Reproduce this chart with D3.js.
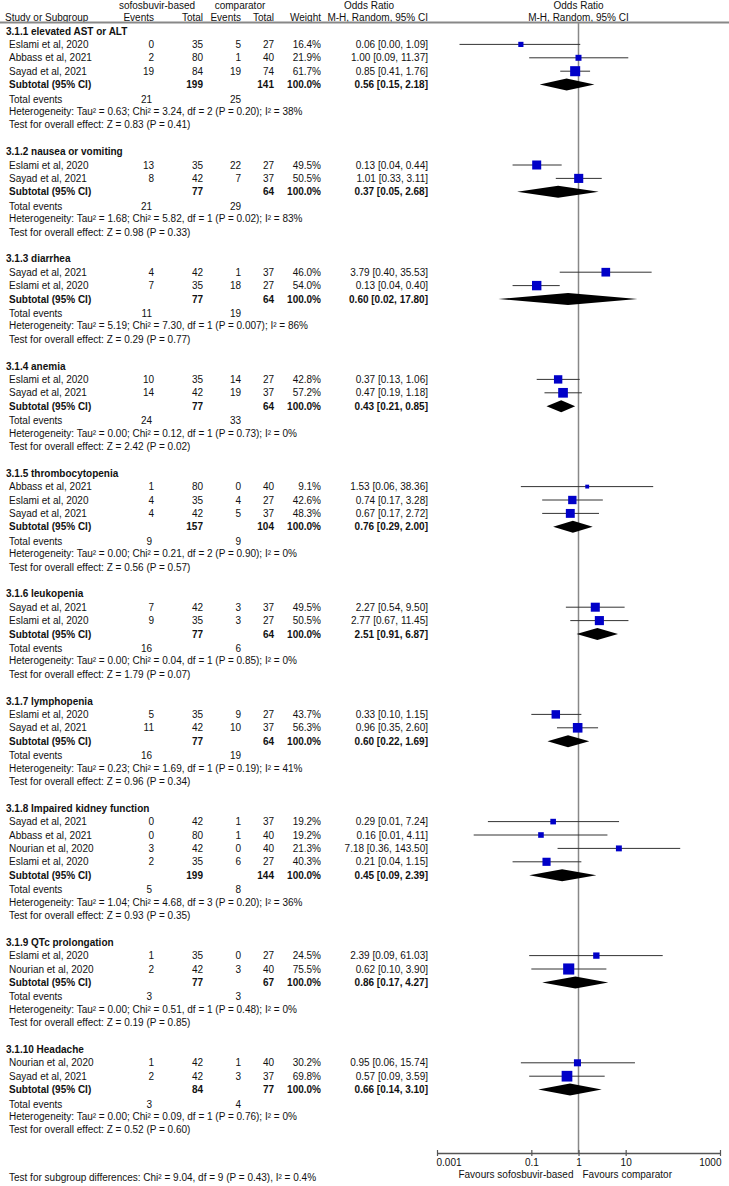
<!DOCTYPE html>
<html>
<head>
<meta charset="utf-8">
<script src="https://cdn.jsdelivr.net/npm/d3@7"></script>
<style>
body { margin: 0; background: #fff; }
text { font-family: "Liberation Sans", Arial, sans-serif; font-size: 10px; fill: #111; }
.b { font-weight: bold; }
</style>
</head>
<body>
<script>
// subgroups
var groupNames = ["3.1.1 elevated AST or ALT", "3.1.2 nausea or vomiting", "3.1.3 diarrhea",
    "3.1.4 anemia", "3.1.5 thrombocytopenia", "3.1.6 leukopenia", "3.1.7 lymphopenia",
    "3.1.8 Impaired kidney function", "3.1.9 QTc prolongation", "3.1.10 Headache"];

// studies (flat, with group index)
var studyGroup = [0,0,0, 1,1, 2,2, 3,3, 4,4,4, 5,5, 6,6, 7,7,7,7, 8,8, 9,9];
var studyName = ["Eslami et al, 2020", "Abbass et al, 2021", "Sayad et al, 2021",
    "Eslami et al, 2020", "Sayad et al, 2021",
    "Sayad et al, 2021", "Eslami et al, 2020",
    "Eslami et al, 2020", "Sayad et al, 2021",
    "Abbass et al, 2021", "Eslami et al, 2020", "Sayad et al, 2021",
    "Sayad et al, 2021", "Eslami et al, 2020",
    "Eslami et al, 2020", "Sayad et al, 2021",
    "Sayad et al, 2021", "Abbass et al, 2021", "Nourian et al, 2020", "Eslami et al, 2020",
    "Eslami et al, 2020", "Nourian et al, 2020",
    "Nourian et al, 2020", "Sayad et al, 2021"];
var eventsA = [0,2,19, 13,8, 4,7, 10,14, 1,4,4, 7,9, 5,11, 0,0,3,2, 1,2, 1,2];
var totalA  = [35,80,84, 35,42, 42,35, 35,42, 80,35,42, 42,35, 35,42, 42,80,42,35, 35,42, 42,42];
var eventsB = [5,1,19, 22,7, 1,18, 14,19, 0,4,5, 3,3, 9,10, 1,1,0,6, 0,3, 1,3];
var totalB  = [27,40,74, 27,37, 37,27, 27,37, 40,27,37, 37,27, 27,37, 37,40,40,27, 27,40, 40,37];
var weight  = [16.4,21.9,61.7, 49.5,50.5, 46.0,54.0, 42.8,57.2, 9.1,42.6,48.3, 49.5,50.5,
    43.7,56.3, 19.2,19.2,21.3,40.3, 24.5,75.5, 30.2,69.8];
var oddsR   = [0.06,1.00,0.85, 0.13,1.01, 3.79,0.13, 0.37,0.47, 1.53,0.74,0.67, 2.27,2.77,
    0.33,0.96, 0.29,0.16,7.18,0.21, 2.39,0.62, 0.95,0.57];
var ciLow   = [0.003,0.09,0.41, 0.04,0.33, 0.40,0.04, 0.13,0.19, 0.06,0.17,0.17, 0.54,0.67,
    0.10,0.35, 0.012,0.006,0.36,0.04, 0.09,0.10, 0.06,0.09];
var ciHigh  = [1.09,11.37,1.76, 0.44,3.11, 35.53,0.40, 1.06,1.18, 38.36,3.28,2.72, 9.50,11.45,
    1.15,2.60, 7.24,4.11,143.50,1.15, 61.03,3.90, 15.74,3.59];

// subtotals per group
var subTotalA = [199,77,77,77,157,77,77,199,77,84];
var subTotalB = [141,64,64,64,104,64,64,144,67,77];
var subOR     = [0.56,0.37,0.60,0.43,0.76,2.51,0.60,0.45,0.86,0.66];
var subLow    = [0.15,0.05,0.02,0.21,0.29,0.91,0.22,0.09,0.17,0.14];
var subHigh   = [2.18,2.68,17.80,0.85,2.00,6.87,1.69,2.39,4.27,3.10];
var totEventsA = [21,21,11,24,9,16,16,5,3,3];
var totEventsB = [25,29,19,33,9,6,19,8,3,4];
var hetText = [
    "Heterogeneity: Tau² = 0.63; Chi² = 3.24, df = 2 (P = 0.20); I² = 38%",
    "Heterogeneity: Tau² = 1.68; Chi² = 5.82, df = 1 (P = 0.02); I² = 83%",
    "Heterogeneity: Tau² = 5.19; Chi² = 7.30, df = 1 (P = 0.007); I² = 86%",
    "Heterogeneity: Tau² = 0.00; Chi² = 0.12, df = 1 (P = 0.73); I² = 0%",
    "Heterogeneity: Tau² = 0.00; Chi² = 0.21, df = 2 (P = 0.90); I² = 0%",
    "Heterogeneity: Tau² = 0.00; Chi² = 0.04, df = 1 (P = 0.85); I² = 0%",
    "Heterogeneity: Tau² = 0.23; Chi² = 1.69, df = 1 (P = 0.19); I² = 41%",
    "Heterogeneity: Tau² = 1.04; Chi² = 4.68, df = 3 (P = 0.20); I² = 36%",
    "Heterogeneity: Tau² = 0.00; Chi² = 0.51, df = 1 (P = 0.48); I² = 0%",
    "Heterogeneity: Tau² = 0.00; Chi² = 0.09, df = 1 (P = 0.76); I² = 0%"];
var effectText = [
    "Test for overall effect: Z = 0.83 (P = 0.41)",
    "Test for overall effect: Z = 0.98 (P = 0.33)",
    "Test for overall effect: Z = 0.29 (P = 0.77)",
    "Test for overall effect: Z = 2.42 (P = 0.02)",
    "Test for overall effect: Z = 0.56 (P = 0.57)",
    "Test for overall effect: Z = 1.79 (P = 0.07)",
    "Test for overall effect: Z = 0.96 (P = 0.34)",
    "Test for overall effect: Z = 0.93 (P = 0.35)",
    "Test for overall effect: Z = 0.19 (P = 0.85)",
    "Test for overall effect: Z = 0.52 (P = 0.60)"];
var subgroupDiff = "Test for subgroup differences: Chi² = 9.04, df = 9 (P = 0.43), I² = 0.4%";

var tickVals = [0.001, 0.1, 1, 10, 1000];
var favourLeft = "Favours sofosbuvir-based", favourRight = "Favours comparator";

var W = 729, H = 1186;
var rowH = 13.4, firstY = 31, axisY = 1153;
var colE1 = 154, colN1 = 203, colE2 = 241, colN2 = 274, colW = 321, colCI = 428;

var f2 = d3.format(".2f"), f1 = d3.format(".1f");
function ciLabel(o, l, h) { return f2(o) + " [" + f2(l) + ", " + f2(h) + "]"; }

var x = d3.scaleLog().domain([0.001, 1000]).range([437, 720]);

var svg = d3.select("body").append("svg")
    .attr("width", W)
    .attr("height", H);

function txt(s, xx, yy, anchor, cls) {
    return svg.append("text")
        .attr("x", xx).attr("y", yy).attr("dy", "0.35em")
        .attr("text-anchor", anchor || "start")
        .attr("class", cls || null)
        .text(s);
}

// header
txt("sofosbuvir-based", 157, 5, "middle");
txt("comparator", 240, 5, "middle");
txt("Odds Ratio", 369, 5, "middle");
txt("Odds Ratio", x(1), 5, "middle");
txt("Study or Subgroup", 5, 17);
txt("Events", colE1, 17, "end");
txt("Total", colN1, 17, "end");
txt("Events", colE2, 17, "end");
txt("Total", colN2, 17, "end");
txt("Weight", colW, 17, "end");
txt("M-H, Random, 95% CI", colCI, 17, "end");
txt("M-H, Random, 95% CI", x(1), 17, "middle");

svg.append("line")
    .attr("x1", 0).attr("x2", W)
    .attr("y1", 22.5).attr("y2", 22.5)
    .attr("stroke", "#888").attr("stroke-width", 2);

// line of no effect
svg.append("line")
    .attr("x1", x(1)).attr("x2", x(1))
    .attr("y1", 23).attr("y2", axisY)
    .attr("stroke", "#888").attr("stroke-width", 1.5);

// build rows
var y = firstY;
groupNames.forEach(function(g, gi) {
    txt(g, 6, y, "start", "b");
    y += rowH;

    studyName.forEach(function(s, i) {
        if (studyGroup[i] != gi) return;
        txt(s, 9, y);
        txt(eventsA[i], colE1, y, "end");
        txt(totalA[i], colN1, y, "end");
        txt(eventsB[i], colE2, y, "end");
        txt(totalB[i], colN2, y, "end");
        txt(f1(weight[i]) + "%", colW, y, "end");
        txt(ciLabel(oddsR[i], ciLow[i], ciHigh[i]), colCI, y, "end");

        svg.append("line")
            .attr("x1", x(ciLow[i])).attr("x2", x(ciHigh[i]))
            .attr("y1", y).attr("y2", y)
            .attr("stroke", "#333").attr("stroke-width", 1);
        var side = Math.max(3, 1.28 * Math.sqrt(weight[i]));
        svg.append("rect")
            .attr("x", x(oddsR[i]) - side / 2).attr("y", y - side / 2)
            .attr("width", side).attr("height", side)
            .attr("fill", "#0000c8");
        y += rowH;
    });

    // subtotal
    txt("Subtotal (95% CI)", 9, y, "start", "b");
    txt(subTotalA[gi], colN1, y, "end", "b");
    txt(subTotalB[gi], colN2, y, "end", "b");
    txt("100.0%", colW, y, "end", "b");
    txt(ciLabel(subOR[gi], subLow[gi], subHigh[gi]), colCI, y, "end", "b");
    var pts = [[x(subLow[gi]), y], [x(subOR[gi]), y - 6], [x(subHigh[gi]), y], [x(subOR[gi]), y + 6]];
    svg.append("path")
        .attr("d", d3.line()(pts) + "Z")
        .attr("fill", "#000");
    y += rowH;

    txt("Total events", 9, y + 1);
    txt(totEventsA[gi], colE1 - 2, y + 1, "end");
    txt(totEventsB[gi], colE2, y + 1, "end");
    y += rowH;
    txt(hetText[gi], 9, y);
    y += rowH;
    txt(effectText[gi], 9, y);
    y += rowH * 2;
});

// axis
var axis = d3.axisBottom(x)
    .tickValues(tickVals)
    .tickFormat(function(d) { return d >= 1 ? d3.format("d")(d) : String(d); })
    .tickSizeInner(3)
    .tickSizeOuter(0);

var gAxis = svg.append("g")
    .attr("transform", "translate(0," + axisY + ")")
    .call(axis);
gAxis.select(".domain").attr("stroke", "#555").attr("stroke-width", 1.5);
gAxis.selectAll(".tick line").attr("y1", -3).attr("stroke", "#555").attr("stroke-width", 1.2);
gAxis.selectAll(".tick text")
    .attr("y", 6)
    .attr("font-family", null).attr("font-size", null)
    .attr("text-anchor", function(d, i) {
        if (i == 0) return "start";
        if (i == tickVals.length - 1) return "end";
        return "middle";
    })
    .attr("dx", function(d, i) {
        if (i == 0) return "-1";
        if (i == tickVals.length - 1) return "1";
        return "0";
    });

txt(favourLeft, x(1) - 5, 1174, "end");
txt(favourRight, x(1) + 4, 1174, "start");

txt(subgroupDiff, 9, 1177);
</script>
</body>
</html>
